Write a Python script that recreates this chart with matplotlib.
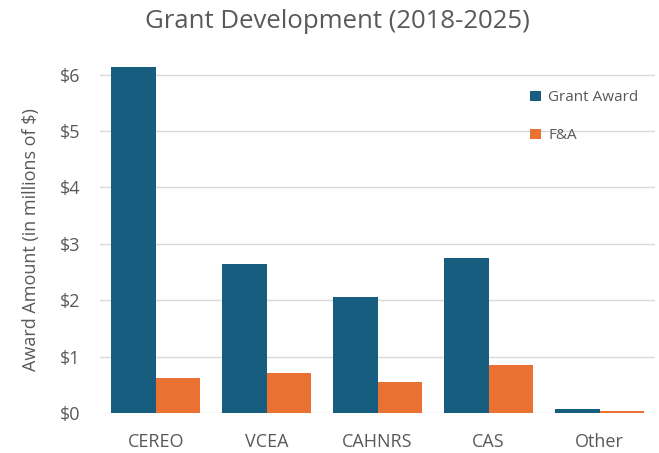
import matplotlib
matplotlib.use("Agg")
import matplotlib.pyplot as plt
import numpy as np

# data (millions of $)
colleges = ["CEREO", "VCEA", "CAHNRS", "CAS", "Other"]
grant_award = [6.14, 2.64, 2.06, 2.75, 0.08]
f_and_a = [0.62, 0.72, 0.56, 0.85, 0.03]
y_ticks = [0, 1, 2, 3, 4, 5, 6]

plt.rcParams['font.family'] = ['Open Sans', 'DejaVu Sans']
text_col = '#595959'

fig = plt.figure(figsize=(6.59, 4.53), dpi=100)
ax = fig.add_axes([0.152, 0.088, 0.842, 0.766])

x = np.arange(len(colleges))
w = 0.4
ax.bar(x - w / 2, grant_award, w, color='#175d80', label='Grant Award', zorder=3)
ax.bar(x + w / 2, f_and_a, w, color='#e97132', label='F&A', zorder=3)

ax.set_xlim(-0.5, len(colleges) - 0.5)
ax.set_ylim(0, 6.15)
ax.set_yticks(y_ticks)
ax.set_yticklabels(['$%d' % t for t in y_ticks])
ax.set_xticks(x)
ax.set_xticklabels(colleges)
ax.tick_params(length=0, labelsize=13, colors=text_col)
ax.tick_params(axis='y', pad=14)
ax.tick_params(axis='x', pad=14)
ax.grid(axis='y', color='#d9d9d9', linewidth=1, zorder=0)
for s in ax.spines.values():
    s.set_visible(False)

ax.set_ylabel('Award Amount (in millions of $)', fontsize=13, color=text_col)
ax.yaxis.set_label_coords(-0.108, 0.5)
fig.text(0.512, 0.952, 'Grant Development (2018-2025)', fontsize=18.5, color=text_col,
         ha='center', va='center')

leg = ax.legend(loc='upper right', bbox_to_anchor=(0.995, 0.97), frameon=False,
                fontsize=11, labelspacing=1.5, handlelength=0.7, handleheight=0.7,
                handletextpad=0.5)
for t in leg.get_texts():
    t.set_color(text_col)

fig.savefig('out.png', dpi=100)
